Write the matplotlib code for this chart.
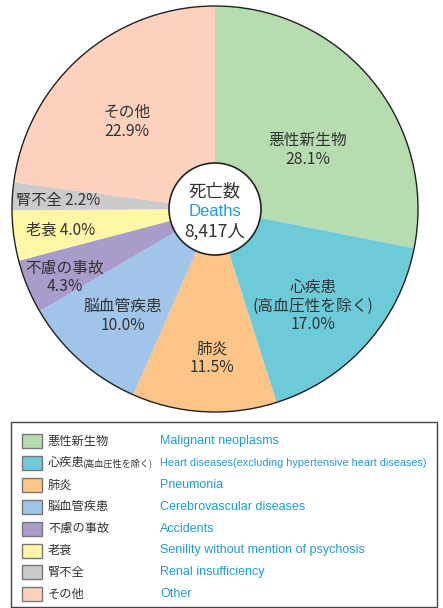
"""Causes of death pie chart with bilingual legend."""

import matplotlib
import matplotlib.pyplot as plt
from matplotlib.patches import Circle, Rectangle

matplotlib.use("Agg")
plt.rcParams["font.family"] = ["Noto Sans CJK JP", "DejaVu Sans"]

# data
causes_jp = ["悪性新生物", "心疾患(高血圧性を除く)", "肺炎", "脳血管疾患",
             "不慮の事故", "老衰", "腎不全", "その他"]
causes_en = ["Malignant neoplasms",
             "Heart diseases(excluding hypertensive heart diseases)",
             "Pneumonia", "Cerebrovascular diseases", "Accidents",
             "Senility without mention of psychosis", "Renal insufficiency",
             "Other"]
shares = [28.1, 17.0, 11.5, 10.0, 4.3, 4.0, 2.2, 22.9]
total_deaths = "8,417人"

colors = ["#b6dcb0", "#6dcad9", "#fcc486", "#a0c5e8",
          "#a99ccb", "#fff6a6", "#cbcbcb", "#fcd2bf"]

# label text shown inside the pie
pie_names = ["悪性新生物", "心疾患\n(高血圧性を除く)", "肺炎", "脳血管疾患",
             "不慮の事故", "老衰", "腎不全", "その他"]
# label offsets from the centre, in pixels (x right, y up)
label_pos = [(93, 59), (98, -97), (-3, -149), (-92, -107),
             (-150, -68), (-154, -21), (-157, 8), (-88, 87)]
inline = [False, False, False, False, False, True, True, False]

W, H = 443, 608
CX, CY, R = 215, 608 - 209, 203
TXT = "#333333"
BLUE = "#1f9bd7"

fig = plt.figure(figsize=(W / 100, H / 100), dpi=100)
ax = fig.add_axes([0, 0, 1, 1])

ax.pie(shares, colors=colors, startangle=90, counterclock=False,
       center=(CX, CY), radius=R, frame=True,
       wedgeprops=dict(edgecolor="none", linewidth=0))
ax.set_xlim(0, W)
ax.set_ylim(0, H)
ax.set_aspect("equal")
ax.axis("off")
ax.add_patch(Circle((CX, CY), R, fill=False, edgecolor="#222222", lw=1.0))

for name, val, (dx, dy), one_line in zip(pie_names, shares, label_pos, inline):
    if one_line:
        ax.text(CX + dx, CY + dy, f"{name} {val:.1f}%", ha="center",
                va="center", fontsize=11, color=TXT)
    else:
        lines = name.split("\n")
        step = 18.5
        n = len(lines) + 1
        y0 = CY + dy + step * (n - 1) / 2
        for i, ln in enumerate(lines + [f"{val:.1f}%"]):
            ax.text(CX + dx, y0 - i * step, ln, ha="center", va="center",
                    fontsize=11.3, color=TXT)

# centre circle
ax.add_patch(Circle((CX, CY), 46, facecolor="white", edgecolor="#222222", lw=1.2,
                    zorder=5))
ax.text(CX, CY + 18, "死亡数", ha="center", va="center", fontsize=12.5, color=TXT,
        zorder=6)
ax.text(CX, CY - 3, "Deaths", ha="center", va="center", fontsize=12, color=BLUE,
        family=["Liberation Sans"], zorder=6)
ax.text(CX, CY - 23, total_deaths, ha="center", va="center", fontsize=12.5,
        color=TXT, zorder=6)

# legend box
ax.add_patch(Rectangle((11, 1), 426, 185, fill=False,
                       edgecolor="#444444", lw=1.0))
row_top = 608 - 441
for i, (jp, en, c) in enumerate(zip(causes_jp, causes_en, colors)):
    y = row_top - i * 21.9
    ax.add_patch(Rectangle((22, y - 7), 20, 14, facecolor=c,
                           edgecolor="#777777", lw=1.0))
    if "(" in jp:
        head, tail = jp.split("(")
        ax.text(48, y, head, ha="left", va="center", fontsize=8.8, color=TXT)
        ax.text(82, y, "(" + tail, ha="left", va="center", fontsize=6.6, color=TXT)
    else:
        ax.text(48, y, jp, ha="left", va="center", fontsize=8.8, color=TXT)
    size = 9 if len(en) < 45 else 7.8
    ax.text(160, y, en, ha="left", va="center", fontsize=size, color=BLUE,
            family=["Liberation Sans"])

fig.savefig("out.png", dpi=100)
